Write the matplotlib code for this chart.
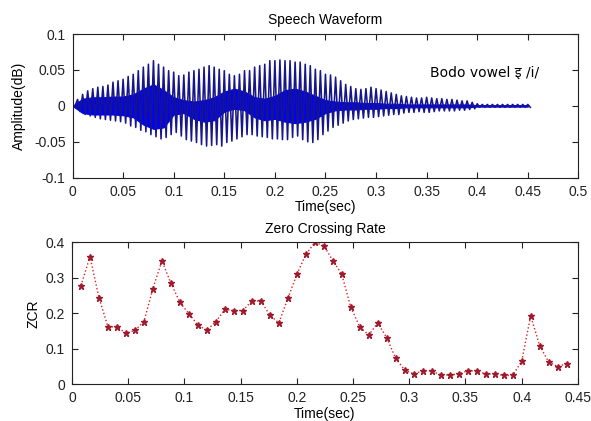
import numpy as np
import matplotlib
matplotlib.use('Agg')
import matplotlib.pyplot as plt

# speech waveform (every 5 ms)
wave_step = 0.005
wave_upper = [0.000, 0.009, 0.016, 0.021, 0.024, 0.026, 0.027, 0.029, 0.033, 0.035,
              0.037, 0.041, 0.044, 0.049, 0.054, 0.058, 0.063, 0.058, 0.054, 0.049,
              0.047, 0.042, 0.043, 0.047, 0.049, 0.051, 0.054, 0.056, 0.054, 0.051,
              0.049, 0.044, 0.042, 0.044, 0.049, 0.049, 0.054, 0.056, 0.058, 0.063,
              0.063, 0.064, 0.063, 0.063, 0.061, 0.061, 0.058, 0.056, 0.051, 0.049,
              0.044, 0.043, 0.040, 0.035, 0.030, 0.027, 0.024, 0.023, 0.024, 0.026,
              0.024, 0.022, 0.020, 0.018, 0.016, 0.014, 0.013, 0.012, 0.011, 0.011,
              0.012, 0.011, 0.010, 0.010, 0.009, 0.009, 0.008, 0.007, 0.007, 0.005,
              0.003, 0.002, 0.002, 0.002, 0.002, 0.002, 0.002, 0.002, 0.002, 0.002,
              0.002]
wave_lower = [0.000, -0.008, -0.012, -0.014, -0.016, -0.018, -0.019, -0.020, -0.021, -0.022,
              -0.024, -0.028, -0.030, -0.034, -0.036, -0.040, -0.043, -0.046, -0.044, -0.040,
              -0.037, -0.042, -0.047, -0.049, -0.051, -0.054, -0.056, -0.055, -0.054, -0.056,
              -0.051, -0.049, -0.046, -0.043, -0.040, -0.040, -0.042, -0.043, -0.044, -0.046,
              -0.046, -0.047, -0.047, -0.044, -0.042, -0.047, -0.050, -0.051, -0.047, -0.040,
              -0.035, -0.030, -0.027, -0.024, -0.021, -0.019, -0.018, -0.017, -0.016, -0.016,
              -0.015, -0.014, -0.013, -0.012, -0.012, -0.010, -0.009, -0.009, -0.008, -0.009,
              -0.009, -0.008, -0.007, -0.007, -0.007, -0.007, -0.006, -0.006, -0.005, -0.004,
              -0.002, -0.002, -0.002, -0.002, -0.002, -0.002, -0.002, -0.002, -0.002, -0.002,
              -0.002]

# dense inner part of the waveform (every 10 ms)
band_step = 0.01
band_upper = [0.000, 0.010, 0.012, 0.012, 0.013, 0.013, 0.016, 0.024, 0.030, 0.022,
              0.012, 0.008, 0.006, 0.008, 0.012, 0.020, 0.024, 0.020, 0.012, 0.010,
              0.014, 0.022, 0.024, 0.020, 0.014, 0.008, 0.006, 0.005, 0.005, 0.004,
              0.004, 0.003, 0.003, 0.002, 0.002, 0.002, 0.002, 0.002, 0.002, 0.002,
              0.001, 0.001, 0.001, 0.001, 0.001, 0.001]
band_lower = [0.000, -0.010, -0.012, -0.012, -0.012, -0.013, -0.016, -0.026, -0.032, -0.030,
              -0.012, -0.010, -0.018, -0.022, -0.020, -0.008, -0.004, -0.006, -0.016, -0.020,
              -0.018, -0.022, -0.024, -0.022, -0.018, -0.010, -0.006, -0.005, -0.005, -0.004,
              -0.004, -0.003, -0.003, -0.002, -0.002, -0.002, -0.002, -0.002, -0.002, -0.002,
              -0.001, -0.001, -0.001, -0.001, -0.001, -0.001]

# zero crossing rate, one frame every 8 ms
zcr_step = 0.008
zcr = [0.278, 0.360, 0.244, 0.162, 0.162, 0.144, 0.152, 0.177, 0.270, 0.348,
       0.285, 0.231, 0.199, 0.167, 0.152, 0.177, 0.211, 0.208, 0.208, 0.235,
       0.235, 0.195, 0.173, 0.242, 0.310, 0.366, 0.400, 0.391, 0.349, 0.310,
       0.217, 0.162, 0.139, 0.173, 0.131, 0.073, 0.040, 0.029, 0.038, 0.038,
       0.026, 0.026, 0.029, 0.038, 0.038, 0.029, 0.029, 0.025, 0.025, 0.065,
       0.193, 0.109, 0.063, 0.050, 0.058]

plt.rcParams['font.family'] = ['Liberation Sans', 'DejaVu Sans']
plt.rcParams['font.size'] = 10

fig = plt.figure(figsize=(5.91, 4.21), dpi=100)


def matlab_axes(ax):
    ax.tick_params(direction='in', top=True, right=True, length=4, width=0.8,
                   colors='#222222', labelsize=10, pad=5)
    for s in ax.spines.values():
        s.set_color('#222222')
        s.set_linewidth(0.8)


# top: waveform
ax1 = fig.add_axes([0.1227, 0.578, 0.856, 0.341])
t_w = np.arange(len(wave_upper)) * wave_step
t_zig = np.empty(2 * len(t_w))
y_zig = np.empty(2 * len(t_w))
t_zig[0::2] = t_w
t_zig[1::2] = t_w + wave_step / 2
y_zig[0::2] = wave_upper
y_zig[1::2] = wave_lower
keep = t_zig <= 0.453
t_b = np.arange(len(band_upper)) * band_step
ax1.plot(t_zig[keep], y_zig[keep], color='#16168a', lw=1.15)
ax1.fill_between(t_b, band_lower, band_upper, color='#0000ff', lw=0.8, ec='#0000ff')
ax1.set_xlim(0, 0.5)
ax1.set_ylim(-0.1, 0.1)
ax1.set_xticks(np.arange(0, 0.51, 0.05))
ax1.set_xticklabels(['0', '0.05', '0.1', '0.15', '0.2', '0.25', '0.3', '0.35', '0.4', '0.45', '0.5'])
ax1.set_yticks([-0.1, -0.05, 0, 0.05, 0.1])
ax1.set_yticklabels(['-0.1', '-0.05', '0', '0.05', '0.1'])
ax1.set_title('Speech Waveform', fontsize=10, pad=7)
ax1.set_xlabel('Time(sec)', labelpad=1)
ax1.set_ylabel('Amplitude(dB)', labelpad=6)
ax1.text(0.353, 0.047, 'Bodo vowel इ /i/', fontsize=10, va='center',
         family=['DejaVu Sans', 'Noto Sans', 'Noto Sans CJK SC'])
matlab_axes(ax1)

# bottom: zero crossing rate
ax2 = fig.add_axes([0.1218, 0.0872, 0.856, 0.337])
t_z = np.arange(1, len(zcr) + 1) * zcr_step
ax2.plot(t_z, zcr, color='#e02020', ls=':', lw=1.0)
ax2.plot(t_z, zcr, ls='none', marker='*', ms=4.5, color='#9e1a2c', mec='#9e1a2c')
ax2.set_xlim(0, 0.45)
ax2.set_ylim(0, 0.4)
ax2.set_xticks(np.arange(0, 0.451, 0.05))
ax2.set_xticklabels(['0', '0.05', '0.1', '0.15', '0.2', '0.25', '0.3', '0.35', '0.4', '0.45'])
ax2.set_yticks([0, 0.1, 0.2, 0.3, 0.4])
ax2.set_yticklabels(['0', '0.1', '0.2', '0.3', '0.4'])
ax2.set_title('Zero Crossing Rate', fontsize=10, pad=7)
ax2.set_xlabel('Time(sec)', labelpad=1)
ax2.set_ylabel('ZCR', labelpad=4)
matlab_axes(ax2)

fig.savefig('out.png', dpi=100)
